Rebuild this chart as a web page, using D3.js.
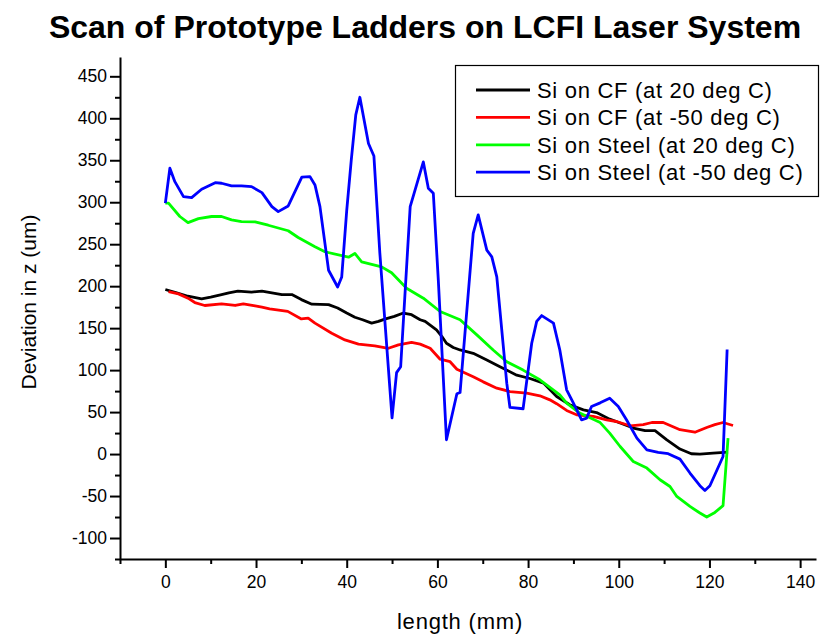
<!DOCTYPE html>
<html>
<head>
<meta charset="utf-8">
<script src="https://cdn.jsdelivr.net/npm/d3@7"></script>
<style>
  html, body { margin: 0; padding: 0; background: #fff; }
  svg { display: block; font-family: "Liberation Sans", Arial, sans-serif; }
</style>
</head>
<body>
<svg id="chart" width="829" height="635"></svg>
<script>
// Series: [length (mm), deviation in z (um)]
const cf20 = [
  [0,196],[2.5,192],[5,188],[8,185],[10,187],[12.4,190],[14,192],[16,194],[19,193],[21.3,194],
  [23.5,192],[25.7,190],[27.9,190],[30,184],[32.3,178.5],[36,178],[38,174],[40,168],[41.8,163],
  [43.5,160],[45.5,156],[47,158],[48.4,160.7],[50.5,164],[52.5,168],[54.3,166],[56.2,160],[57.3,158],
  [59.8,148],[61,140],[62,132],[63.5,127],[65,124],[67.9,120],[70.9,112],[73.8,104],[77.5,94],
  [80.4,90],[83.4,84.5],[86.3,68.6],[89.2,58.7],[92.2,52.7],[95.1,49.5],[98,41.6],[100.3,37],
  [103.2,31],[105.8,28],[108,28],[110.6,17],[113.5,6],[116,0.4],[117.9,0],[120.8,1],[124.1,2.4]
];
const cf50 = [
  [0.7,193.6],[2.9,190.8],[5,185.7],[6.5,180.5],[8.7,177],[12.4,179],[15.4,177],[17.2,179],
  [19.8,176.5],[21.3,175],[23,173],[27,170],[30,161],[31.5,162],[33,156],[36.7,144],[39.6,136],
  [42.6,131],[46.2,129],[49.2,126],[51.4,130],[54.3,133],[56.2,131],[58.4,126],[60.6,113],
  [62.8,110],[64.3,101],[67.9,92],[70.1,86],[73.1,78.5],[76,74.5],[79.7,72.6],[82.6,69.4],
  [84.8,64.6],[86.3,60],[88.5,52],[90.7,46.8],[94.4,44.8],[97.3,40.8],[99.5,38.8],[102.5,33.7],
  [105.4,35],[107.3,37.6],[109.8,37.6],[113.5,29],[116.8,26],[119.4,31.7],[121.2,35],[123,37.6],
  [125.2,34]
];
const steel20 = [
  [0,299],[0.7,299],[3.2,283],[5,275.7],[7.3,280.5],[10.2,283],[12.4,283],[14.6,279],[16.8,277],
  [19.8,276.5],[22.7,272.6],[27.1,266],[29.3,258],[33,247],[35.2,241],[40.4,234.5],[41.8,239],
  [43.3,229],[47.7,223],[49.9,216],[53.2,197.6],[56.9,185.7],[60.6,169.8],[65,160],[68.7,142],
  [72.3,124],[75.3,110],[78.9,100],[82.6,88.5],[87,70.6],[88.5,60.7],[91.4,48.8],[95.9,37.5],
  [98,25],[100.3,9],[103.2,-8.8],[106.2,-16.7],[109.1,-30.6],[111.3,-38.6],[112.8,-50.5],
  [115.7,-62.4],[117.9,-70.2],[119.4,-75],[121.2,-69.5],[123,-61.5],[124.1,19]
];
const steel50 = [
  [0,299],[1,340.5],[2.1,324.5],[4,306.7],[5.8,305.5],[8,315.5],[11,323.3],[12.4,322.6],
  [14.6,319.4],[16.8,319.4],[19,318.6],[21.3,311.4],[23.5,294.8],[24.9,288.8],[27.1,295.6],
  [30.1,329.8],[31.9,330.5],[33,320.6],[34.1,294.8],[36,219],[38,199],[38.9,211],[40,290],
  [41,350],[42,404],[42.9,425],[44.8,370],[46,355],[47.3,240],[50,43],[51,97],[51.9,104],
  [54,294.8],[56.9,348],[58,316.6],[59.1,310.7],[60.2,207.5],[62,17],[64.3,71.8],[65,73.3],
  [67.9,263],[69,285],[70.9,243],[72,235],[73.1,211],[75.3,84.5],[76,55.5],[78.9,54],
  [80.8,132],[81.9,158],[83,165],[85.6,156],[87,124],[88.5,76.5],[90,60.7],[91.8,40.8],
  [92.9,42.8],[94,56.7],[95.9,61],[98,66.5],[99.9,56.7],[101.7,40.8],[104,19],[106.2,5],
  [108.7,2],[110.9,0.4],[113.5,-6],[115.7,-22.6],[117.9,-37.7],[119,-43.3],[120.1,-37.7],
  [123,-2.9],[123.9,124.5]
];

const seriesNames = [
  "Si on CF (at 20 deg C)",
  "Si on CF (at -50 deg C)",
  "Si on Steel (at 20 deg C)",
  "Si on Steel (at -50 deg C)"
];
const seriesColors = ["#000000", "#ff0000", "#00ff00", "#0000ff"];
const seriesData = [cf20, cf50, steel20, steel50];

const xMajorTicks = [0, 20, 40, 60, 80, 100, 120, 140];
const xMinorTicks = [-10, 10, 30, 50, 70, 90, 110, 130];
const yMajorTicks = [-100, -50, 0, 50, 100, 150, 200, 250, 300, 350, 400, 450];
const yMinorTicks = [-125, -75, -25, 25, 75, 125, 175, 225, 275, 325, 375, 425];

const titleText = "Scan of Prototype Ladders on LCFI Laser System";
const xLabel = "length (mm)";
const yLabel = "Deviation in z (um)";

const svg = d3.select("#chart");

const x = d3.scaleLinear().domain([-10, 143.5]).range([120, 816]);
const y = d3.scaleLinear().domain([-125, 473]).range([559, 57]);

// Title
svg.append("text")
  .attr("x", 425).attr("y", 38)
  .attr("text-anchor", "middle")
  .attr("font-size", 32).attr("font-weight", "bold")
  .text(titleText);

// Axes: major ticks with labels, minor ticks without
const fmt = d => String(d);
const xAxisG = svg.append("g").attr("transform", `translate(0,${y.range()[0]})`);
xAxisG.call(d3.axisBottom(x).tickValues(xMajorTicks).tickFormat(fmt).tickSize(9).tickSizeOuter(0).tickPadding(8));
const xMinorG = svg.append("g").attr("transform", `translate(0,${y.range()[0]})`);
xMinorG.call(d3.axisBottom(x).tickValues(xMinorTicks).tickFormat("").tickSize(5).tickSizeOuter(0));
xMinorG.select(".domain").remove();

const yAxisG = svg.append("g").attr("transform", `translate(${x.range()[0]},0)`);
yAxisG.call(d3.axisLeft(y).tickValues(yMajorTicks).tickFormat(fmt).tickSize(10).tickSizeOuter(0).tickPadding(3));
const yMinorG = svg.append("g").attr("transform", `translate(${x.range()[0]},0)`);
yMinorG.call(d3.axisLeft(y).tickValues(yMinorTicks).tickFormat("").tickSize(5).tickSizeOuter(0));
yMinorG.select(".domain").remove();

svg.selectAll(".domain, .tick line").attr("stroke", "#000").attr("stroke-width", 2);
svg.selectAll(".tick text")
  .attr("font-size", 17.5)
  .attr("font-family", "Liberation Sans, Arial, sans-serif")
  .attr("fill", "#000");

// Axis titles
svg.append("text")
  .attr("x", 460).attr("y", 629)
  .attr("text-anchor", "middle")
  .attr("font-size", 22)
  .attr("letter-spacing", 0.8)
  .text(xLabel);
svg.append("text")
  .attr("transform", "translate(36,302) rotate(-90)")
  .attr("text-anchor", "middle")
  .attr("font-size", 21)
  .text(yLabel);

// Data lines
const line = d3.line().x(d => x(d[0])).y(d => y(d[1]));
svg.append("g").selectAll("path")
  .data(seriesData)
  .join("path")
  .attr("d", line)
  .attr("fill", "none")
  .attr("stroke", (d, i) => seriesColors[i])
  .attr("stroke-width", 2.8)
  .attr("stroke-linejoin", "round");

// Legend
const legend = svg.append("g");
legend.append("rect")
  .attr("x", 455.5).attr("y", 65.5)
  .attr("width", 363).attr("height", 131)
  .attr("fill", "#fff").attr("stroke", "#000").attr("stroke-width", 1.2);
const rows = legend.selectAll("g.row")
  .data(seriesNames)
  .join("g")
  .attr("class", "row")
  .attr("transform", (d, i) => `translate(0,${90 + i * 27.4})`);
rows.append("line")
  .attr("x1", 476).attr("x2", 530)
  .attr("y1", 0).attr("y2", 0)
  .attr("stroke", (d, i) => seriesColors[i])
  .attr("stroke-width", 2.8);
rows.append("text")
  .attr("x", 537).attr("y", 8)
  .attr("font-size", 22)
  .attr("letter-spacing", 0.7)
  .text(d => d);
</script>
</body>
</html>
